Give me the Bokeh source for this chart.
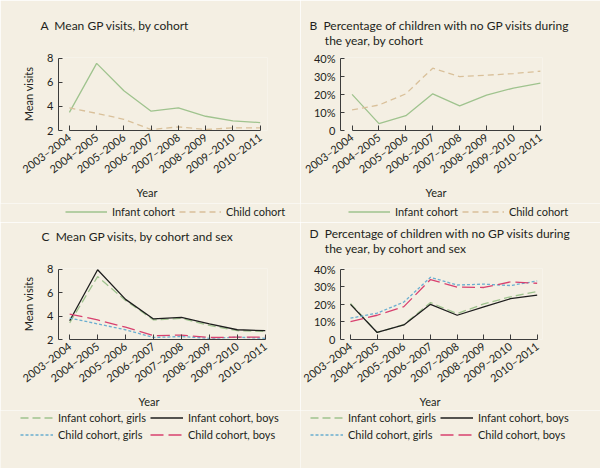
import math
from bokeh.plotting import figure
from bokeh.models import Range1d, FixedTicker, Legend, LegendItem, Title
from bokeh.layouts import column, row
from bokeh.embed import file_html
from bokeh.resources import INLINE

years = ["2003–2004", "2004–2005", "2005–2006", "2006–2007",
         "2007–2008", "2008–2009", "2009–2010", "2010–2011"]

a_infant = [3.5, 7.56, 5.29, 3.6, 3.87, 3.18, 2.8, 2.66]
a_child = [3.88, 3.42, 2.93, 2.08, 2.3, 2.08, 2.22, 2.22]

b_infant = [20.0, 3.8, 8.2, 20.3, 13.6, 19.6, 23.5, 26.2]
b_child = [11.4, 14.1, 20.3, 34.5, 29.8, 30.6, 31.5, 32.8]

c_infant_girls = [3.42, 7.36, 5.33, 3.67, 3.8, 3.2, 2.75, 2.7]
c_infant_boys = [3.6, 7.94, 5.42, 3.75, 3.88, 3.33, 2.83, 2.75]
c_child_girls = [3.83, 3.33, 2.83, 2.17, 2.25, 2.1, 2.2, 2.1]
c_child_boys = [4.17, 3.67, 3.05, 2.33, 2.38, 2.17, 2.2, 2.2]

d_infant_girls = [20.5, 4.0, 8.5, 21.0, 14.7, 20.3, 24.3, 27.3]
d_infant_boys = [20.0, 4.0, 8.3, 20.0, 13.8, 18.5, 23.2, 25.3]
d_child_girls = [12.1, 15.0, 21.3, 35.4, 31.0, 31.5, 30.7, 33.3]
d_child_boys = [10.2, 13.8, 18.7, 34.1, 29.8, 29.6, 32.8, 32.0]

visit_ticks = [2, 4, 6, 8]
pct_ticks = [0, 10, 20, 30, 40]
pct_labels = ["0", "10%", "20%", "30%", "40%"]

BG = "#f4efe3"
TXT = "#231f20"
AX = "#3c3c3c"
GREEN = "#9fc38e"
TAN = "#d9c09a"
BLUE = "#6aaed0"
PINK = "#d8416f"
BLACK = "#1e1e1e"
FONT = "Lato"
NB = "\u00a0"

xs = list(range(len(years)))

STYLE_A = [dict(line_color=GREEN, line_width=1.3),
           dict(line_color=TAN, line_width=1.3, line_dash="6 4")]
STYLE_C = [dict(line_color=GREEN, line_width=1.3, line_dash="8 4"),
           dict(line_color=BLACK, line_width=1.3),
           dict(line_color=BLUE, line_width=1.3, line_dash="3 2"),
           dict(line_color=PINK, line_width=1.3, line_dash="13 5")]
NAMES_A = ["Infant cohort", "Child cohort"]
NAMES_C = ["Infant cohort, girls", "Infant cohort, boys",
           "Child cohort, girls", "Child cohort, boys"]


def make_fig(w, h, left, right, top, bottom, xr, yr, yticks, ylabels, ylabel):
    p = figure(width=w, height=h, output_backend="svg", toolbar_location=None,
               x_range=Range1d(*xr), y_range=Range1d(*yr),
               min_border_left=left, min_border_right=right,
               min_border_top=top, min_border_bottom=bottom)
    p.title.visible = False
    p.background_fill_color = BG
    p.border_fill_color = BG
    p.outline_line_color = None
    p.grid.visible = False
    xa = p.xaxis[0]
    xa.ticker = FixedTicker(ticks=xs)
    xa.major_label_overrides = {i: years[i] for i in xs}
    xa.bounds = (0, 7)
    xa.major_tick_in = 5
    xa.major_tick_out = 0
    xa.minor_tick_line_color = None
    xa.major_label_orientation = math.radians(37)
    xa.major_label_standoff = 5
    ya = p.yaxis[0]
    ya.ticker = FixedTicker(ticks=yticks)
    ya.major_label_overrides = {t: l for t, l in zip(yticks, ylabels)}
    ya.bounds = (yticks[0], yticks[-1])
    ya.major_tick_in = 4
    ya.major_tick_out = 0
    ya.minor_tick_line_color = None
    if ylabel:
        ya.axis_label = ylabel
        ya.axis_label_standoff = 9
        ya.axis_label_text_font = FONT
        ya.axis_label_text_font_size = "11px"
        ya.axis_label_text_font_style = "normal"
        ya.axis_label_text_color = TXT
    for ax in (xa, ya):
        ax.axis_line_color = AX
        ax.major_tick_line_color = AX
        ax.major_label_text_font = FONT
        ax.major_label_text_font_size = "11px"
        ax.major_label_text_color = TXT
    return p


def spacer(p, side, s):
    # blank (no-break space) title used only to reserve vertical room
    p.add_layout(Title(text=NB, text_font_size="1px", standoff=s, text_color=BG), side)


def add_title(p, text, off, gap):
    spacer(p, "above", gap)
    p.add_layout(Title(text=text, align="left", offset=off, text_font=FONT,
                       text_font_size="12px", text_font_style="normal",
                       text_color=TXT, standoff=0), "above")


def add_year(p, off):
    p.add_layout(Title(text="Year", align="left", offset=off, text_font=FONT,
                       text_font_size="11px", text_font_style="normal",
                       text_color=TXT, standoff=0), "below")


def legend_fig(h, names, styles, series, loc, glyph_w, ncols=None):
    lf = figure(width=300, height=h, output_backend="svg", toolbar_location=None,
                x_range=Range1d(0, 1), y_range=Range1d(0, 1),
                x_axis_location=None, y_axis_location=None, min_border=0)
    lf.title.visible = False
    lf.background_fill_color = BG
    lf.border_fill_color = BG
    lf.outline_line_color = None
    lf.grid.visible = False
    items = []
    for name, st, ys in zip(names, styles, series):
        r = lf.line(xs, ys, visible=False, **st)
        items.append(LegendItem(label=name, renderers=[r]))
    kw = dict(items=items, orientation="horizontal", location=loc,
              glyph_width=glyph_w, glyph_height=13, label_height=13,
              label_standoff=5, spacing=4, padding=0, margin=0,
              border_line_color=None, background_fill_alpha=0,
              inactive_fill_alpha=0,
              label_text_font=FONT, label_text_font_size="11px",
              label_text_color=TXT)
    if ncols:
        kw["ncols"] = ncols
    lf.add_layout(Legend(**kw), "center")
    return lf


# Panel A
pa = make_fig(300, 203, 58, 33, 57, 73, (-0.4, 7.27), (2, 8.05), visit_ticks,
              [str(t) for t in visit_ticks], "Mean visits")
pa.line(xs, a_infant, **STYLE_A[0])
pa.line(xs, a_child, **STYLE_A[1])
add_title(pa, "A" + NB + " Mean GP visits, by cohort", -18, 22)
add_year(pa, 78)
la = legend_fig(19, NAMES_A, STYLE_A, [a_infant, a_child], (65, 4), 42)

# Panel B
pb = make_fig(300, 203, 40, 58, 57, 73, (-0.43, 7.08), (0, 40.4), pct_ticks, pct_labels, None)
pb.line(xs, b_infant, **STYLE_A[0])
pb.line(xs, b_child, **STYLE_A[1])
add_title(pb, "B" + NB + " Percentage of children with no GP visits during\n"
          + NB * 5 + "the year, by cohort", -31, 7)
add_year(pb, 85)
lb = legend_fig(19, NAMES_A, STYLE_A, [b_infant, b_child], (48, 4), 42)

# Panel C
pc = make_fig(300, 188, 58, 33, 46, 71, (-0.4, 7.08), (2, 8.05), visit_ticks,
              [str(t) for t in visit_ticks], "Mean visits")
c_series = [c_infant_girls, c_infant_boys, c_child_girls, c_child_boys]
for ys, st in zip(c_series, STYLE_C):
    pc.line(xs, ys, **st)
add_title(pc, "C" + NB + " Mean GP visits, by cohort and sex", -17, 22)
add_year(pc, 80)
lc = legend_fig(58, NAMES_C, STYLE_C, c_series, (20, 27), 33, ncols=2)

# Panel D
pd_ = make_fig(300, 188, 40, 58, 46, 71, (-0.375, 7.2), (0, 40.4), pct_ticks, pct_labels, None)
d_series = [d_infant_girls, d_infant_boys, d_child_girls, d_child_boys]
for ys, st in zip(d_series, STYLE_C):
    pd_.line(xs, ys, **st)
add_title(pd_, "D" + NB + " Percentage of children with no GP visits during\n"
          + NB * 5 + "the year, by cohort and sex", -31, 10)
add_year(pd_, 79)
ld = legend_fig(58, NAMES_C, STYLE_C, d_series, (10, 27), 33, ncols=2)

layout = column(row(pa, pb), row(la, lb), row(pc, pd_), row(lc, ld))

html = file_html(layout, INLINE)
html = html.replace("<body>", '<body style="background-color:%s;">' % BG, 1)
open("out.html", "w").write(html)
